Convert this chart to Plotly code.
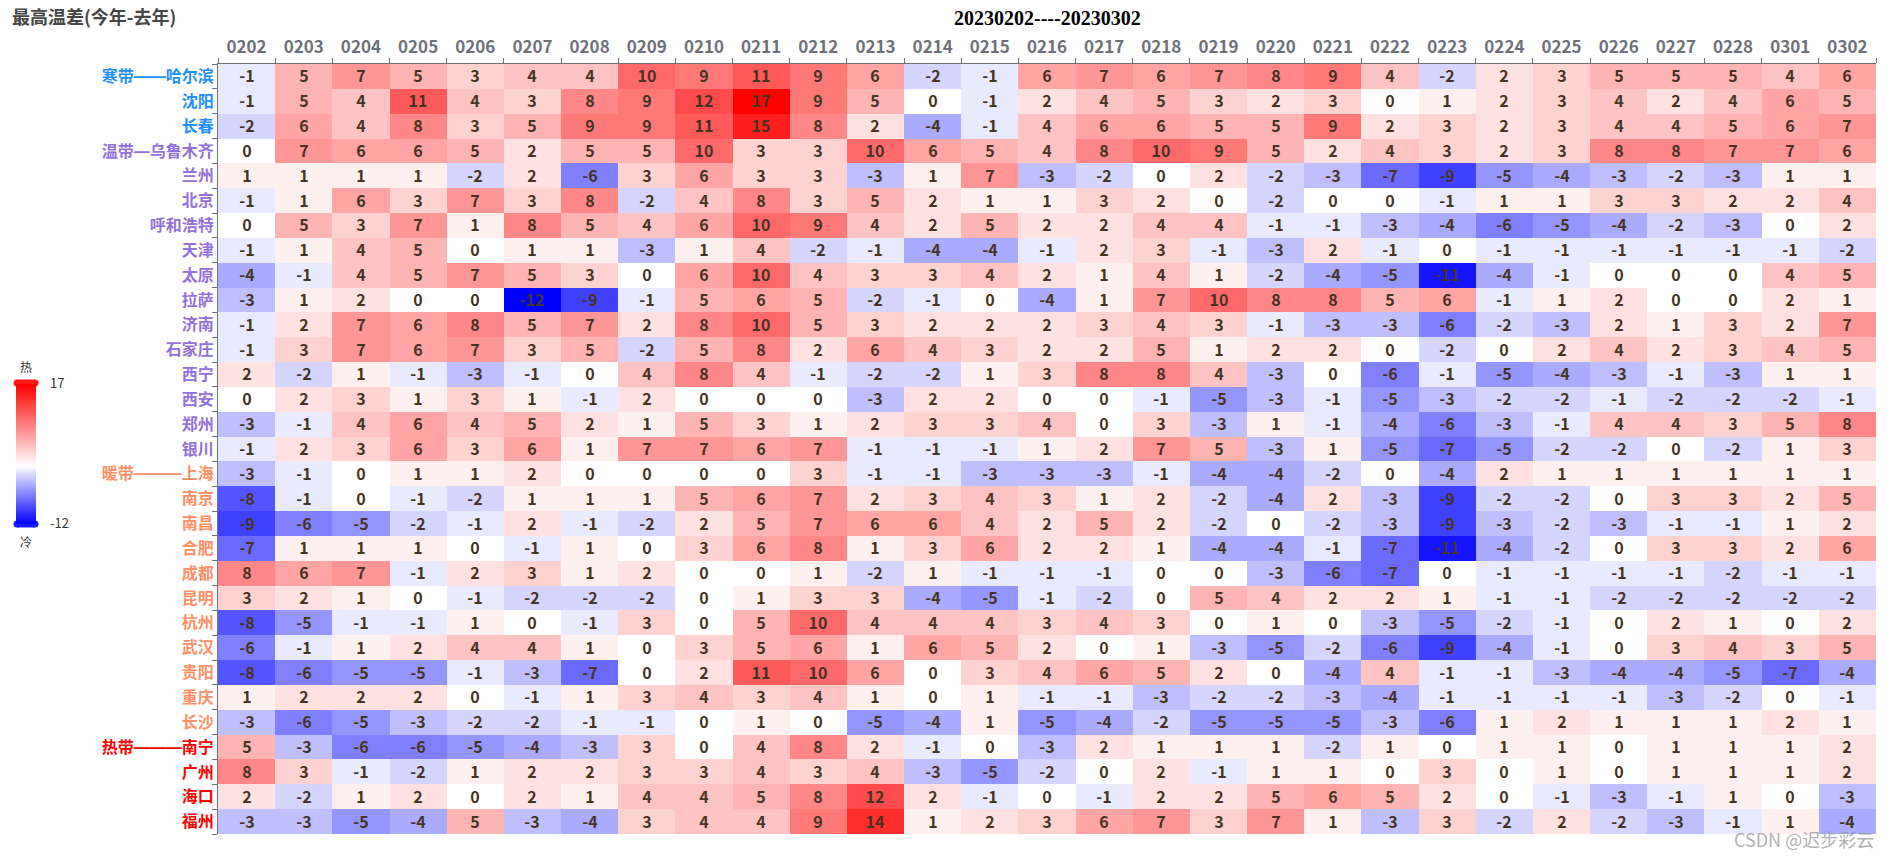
import plotly.graph_objects as go

# ---------------- data ----------------
dates = ['0202', '0203', '0204', '0205', '0206', '0207', '0208', '0209', '0210', '0211',
         '0212', '0213', '0214', '0215', '0216', '0217', '0218', '0219', '0220', '0221',
         '0222', '0223', '0224', '0225', '0226', '0227', '0228', '0301', '0302']

cities = ['哈尔滨', '沈阳', '长春', '乌鲁木齐', '兰州', '北京', '呼和浩特', '天津', '太原', '拉萨',
          '济南', '石家庄', '西宁', '西安', '郑州', '银川', '上海', '南京', '南昌', '合肥',
          '成都', '昆明', '杭州', '武汉', '贵阳', '重庆', '长沙', '南宁', '广州', '海口', '福州']

zones = ['寒带'] * 3 + ['温带'] * 13 + ['暖带'] * 11 + ['热带'] * 4
zone_dash = {'寒带': '——', '温带': '—', '暖带': '———', '热带': '———'}

harbin   = [-1, 5, 7, 5, 3, 4, 4, 10, 9, 11, 9, 6, -2, -1, 6, 7, 6, 7, 8, 9, 4, -2, 2, 3, 5, 5, 5, 4, 6]
shenyang = [-1, 5, 4, 11, 4, 3, 8, 9, 12, 17, 9, 5, 0, -1, 2, 4, 5, 3, 2, 3, 0, 1, 2, 3, 4, 2, 4, 6, 5]
changchun = [-2, 6, 4, 8, 3, 5, 9, 9, 11, 15, 8, 2, -4, -1, 4, 6, 6, 5, 5, 9, 2, 3, 2, 3, 4, 4, 5, 6, 7]
urumqi   = [0, 7, 6, 6, 5, 2, 5, 5, 10, 3, 3, 10, 6, 5, 4, 8, 10, 9, 5, 2, 4, 3, 2, 3, 8, 8, 7, 7, 6]
lanzhou  = [1, 1, 1, 1, -2, 2, -6, 3, 6, 3, 3, -3, 1, 7, -3, -2, 0, 2, -2, -3, -7, -9, -5, -4, -3, -2, -3, 1, 1]
beijing  = [-1, 1, 6, 3, 7, 3, 8, -2, 4, 8, 3, 5, 2, 1, 1, 3, 2, 0, -2, 0, 0, -1, 1, 1, 3, 3, 2, 2, 4]
hohhot   = [0, 5, 3, 7, 1, 8, 5, 4, 6, 10, 9, 4, 2, 5, 2, 2, 4, 4, -1, -1, -3, -4, -6, -5, -4, -2, -3, 0, 2]
tianjin  = [-1, 1, 4, 5, 0, 1, 1, -3, 1, 4, -2, -1, -4, -4, -1, 2, 3, -1, -3, 2, -1, 0, -1, -1, -1, -1, -1, -1, -2]
taiyuan  = [-4, -1, 4, 5, 7, 5, 3, 0, 6, 10, 4, 3, 3, 4, 2, 1, 4, 1, -2, -4, -5, -11, -4, -1, 0, 0, 0, 4, 5]
lhasa    = [-3, 1, 2, 0, 0, -12, -9, -1, 5, 6, 5, -2, -1, 0, -4, 1, 7, 10, 8, 8, 5, 6, -1, 1, 2, 0, 0, 2, 1]
jinan    = [-1, 2, 7, 6, 8, 5, 7, 2, 8, 10, 5, 3, 2, 2, 2, 3, 4, 3, -1, -3, -3, -6, -2, -3, 2, 1, 3, 2, 7]
shijiazhuang = [-1, 3, 7, 6, 7, 3, 5, -2, 5, 8, 2, 6, 4, 3, 2, 2, 5, 1, 2, 2, 0, -2, 0, 2, 4, 2, 3, 4, 5]
xining   = [2, -2, 1, -1, -3, -1, 0, 4, 8, 4, -1, -2, -2, 1, 3, 8, 8, 4, -3, 0, -6, -1, -5, -4, -3, -1, -3, 1, 1]
xian     = [0, 2, 3, 1, 3, 1, -1, 2, 0, 0, 0, -3, 2, 2, 0, 0, -1, -5, -3, -1, -5, -3, -2, -2, -1, -2, -2, -2, -1]
zhengzhou = [-3, -1, 4, 6, 4, 5, 2, 1, 5, 3, 1, 2, 3, 3, 4, 0, 3, -3, 1, -1, -4, -6, -3, -1, 4, 4, 3, 5, 8]
yinchuan = [-1, 2, 3, 6, 3, 6, 1, 7, 7, 6, 7, -1, -1, -1, 1, 2, 7, 5, -3, 1, -5, -7, -5, -2, -2, 0, -2, 1, 3]
shanghai = [-3, -1, 0, 1, 1, 2, 0, 0, 0, 0, 3, -1, -1, -3, -3, -3, -1, -4, -4, -2, 0, -4, 2, 1, 1, 1, 1, 1, 1]
nanjing  = [-8, -1, 0, -1, -2, 1, 1, 1, 5, 6, 7, 2, 3, 4, 3, 1, 2, -2, -4, 2, -3, -9, -2, -2, 0, 3, 3, 2, 5]
nanchang = [-9, -6, -5, -2, -1, 2, -1, -2, 2, 5, 7, 6, 6, 4, 2, 5, 2, -2, 0, -2, -3, -9, -3, -2, -3, -1, -1, 1, 2]
hefei    = [-7, 1, 1, 1, 0, -1, 1, 0, 3, 6, 8, 1, 3, 6, 2, 2, 1, -4, -4, -1, -7, -11, -4, -2, 0, 3, 3, 2, 6]
chengdu  = [8, 6, 7, -1, 2, 3, 1, 2, 0, 0, 1, -2, 1, -1, -1, -1, 0, 0, -3, -6, -7, 0, -1, -1, -1, -1, -2, -1, -1]
kunming  = [3, 2, 1, 0, -1, -2, -2, -2, 0, 1, 3, 3, -4, -5, -1, -2, 0, 5, 4, 2, 2, 1, -1, -1, -2, -2, -2, -2, -2]
hangzhou = [-8, -5, -1, -1, 1, 0, -1, 3, 0, 5, 10, 4, 4, 4, 3, 4, 3, 0, 1, 0, -3, -5, -2, -1, 0, 2, 1, 0, 2]
wuhan    = [-6, -1, 1, 2, 4, 4, 1, 0, 3, 5, 6, 1, 6, 5, 2, 0, 1, -3, -5, -2, -6, -9, -4, -1, 0, 3, 4, 3, 5]
guiyang  = [-8, -6, -5, -5, -1, -3, -7, 0, 2, 11, 10, 6, 0, 3, 4, 6, 5, 2, 0, -4, 4, -1, -1, -3, -4, -4, -5, -7, -4]
chongqing = [1, 2, 2, 2, 0, -1, 1, 3, 4, 3, 4, 1, 0, 1, -1, -1, -3, -2, -2, -3, -4, -1, -1, -1, -1, -3, -2, 0, -1]
changsha = [-3, -6, -5, -3, -2, -2, -1, -1, 0, 1, 0, -5, -4, 1, -5, -4, -2, -5, -5, -5, -3, -6, 1, 2, 1, 1, 1, 2, 1]
nanning  = [5, -3, -6, -6, -5, -4, -3, 3, 0, 4, 8, 2, -1, 0, -3, 2, 1, 1, 1, -2, 1, 0, 1, 1, 0, 1, 1, 1, 2]
guangzhou = [8, 3, -1, -2, 1, 2, 2, 3, 3, 4, 3, 4, -3, -5, -2, 0, 2, -1, 1, 1, 0, 3, 0, 1, 0, 1, 1, 1, 2]
haikou   = [2, -2, 1, 2, 0, 2, 1, 4, 4, 5, 8, 12, 2, -1, 0, -1, 2, 2, 5, 6, 5, 2, 0, -1, -3, -1, 1, 0, -3]
fuzhou   = [-3, -3, -5, -4, 5, -3, -4, 3, 4, 4, 9, 14, 1, 2, 3, 6, 7, 3, 7, 1, -3, 3, -2, 2, -2, -3, -1, 1, -4]

z = [harbin, shenyang, changchun, urumqi, lanzhou, beijing, hohhot, tianjin, taiyuan, lhasa,
     jinan, shijiazhuang, xining, xian, zhengzhou, yinchuan, shanghai, nanjing, nanchang, hefei,
     chengdu, kunming, hangzhou, wuhan, guiyang, chongqing, changsha, nanning, guangzhou, haikou, fuzhou]

vmin, vmax = -12, 17

# ---------------- style ----------------
W, H = 1900, 857
ML, MR, MT, MB = 218, 24, 64, 23
PW, PH = W - ML - MR, H - MT - MB
FONT = 'Noto Sans CJK SC, Noto Sans, sans-serif'
zone_color = {'寒带': '#1E90FF', '温带': '#9370DB', '暖带': '#FF8F66', '热带': '#FF0000'}
AXIS_GRAY = '#6E7079'


def px_x(px):
    return (px - ML) / PW


def px_y(py):
    return (H - MB - py) / PH


# first city in each zone carries the zone name prefix
ticktext = []
seen = set()
for c, zn in zip(cities, zones):
    if zn not in seen:
        seen.add(zn)
        lab = (f"{zn}<span style='font-family:Liberation Sans'>{zone_dash[zn]}</span>{c}")
    else:
        lab = c
    ticktext.append(f"<span style='color:{zone_color[zn]}'>{lab}</span>")

cell_text = [[str(v) for v in row] for row in z]
white_pos = (0 - vmin) / (vmax - vmin)

fig = go.Figure(go.Heatmap(
    z=z, x=dates, y=cities, zmin=vmin, zmax=vmax,
    colorscale=[[0, '#0000ff'], [white_pos, '#ffffff'], [1, '#ff0000']],
    text=cell_text, texttemplate='%{text}',
    textfont=dict(family=FONT, size=16, color='#45341f', weight='bold'),
    hoverinfo='skip',
    colorbar=dict(
        xref='paper', yref='paper',
        x=px_x(16), xanchor='left',
        y=px_y(453.5), yanchor='middle',
        lenmode='pixels', len=140, thickness=20,
        outlinewidth=0, xpad=0, ypad=0,
        tickmode='array', tickvals=[vmin, vmax], ticktext=[str(vmin), str(vmax)],
        ticks='outside', ticklen=12, tickcolor='rgba(0,0,0,0)',
        tickfont=dict(family=FONT, size=13, color='#333333'),
    ),
))

fig.update_xaxes(
    side='top', type='category', showgrid=False, zeroline=False,
    ticks='outside', tickson='boundaries', ticklen=5, tickcolor=AXIS_GRAY,
    showline=True, linecolor=AXIS_GRAY, linewidth=1,
    ticklabelstandoff=3,
    tickfont=dict(family=FONT, size=17, color=AXIS_GRAY, weight='bold'),
)
fig.update_yaxes(
    type='category', autorange='reversed', showgrid=False, zeroline=False,
    ticks='outside', tickson='boundaries', ticklen=5, tickcolor=AXIS_GRAY,
    showline=True, linecolor=AXIS_GRAY, linewidth=1,
    tickmode='array', tickvals=cities, ticktext=ticktext,
    tickfont=dict(family=FONT, size=16, weight='bold'),
)

annotations = [
    dict(text='20230202----20230302', xref='paper', yref='paper', x=0.5, y=px_y(18),
         xanchor='center', yanchor='middle', showarrow=False,
         font=dict(family='Liberation Serif, Times New Roman, serif', size=20, color='#000000', weight='bold')),
    dict(text='热', xref='paper', yref='paper', x=px_x(26), y=px_y(366),
         xanchor='center', yanchor='middle', showarrow=False,
         font=dict(family=FONT, size=12, color='#333333')),
    dict(text='冷', xref='paper', yref='paper', x=px_x(26), y=px_y(541),
         xanchor='center', yanchor='middle', showarrow=False,
         font=dict(family=FONT, size=12, color='#333333')),
    dict(text='CSDN @迟步彩云', xref='paper', yref='paper', x=1.0, y=px_y(839),
         xanchor='right', yanchor='middle', showarrow=False,
         font=dict(family=FONT, size=18, color='rgba(150,150,150,0.75)')),
]

# colour-bar end handles (pill shapes)
shapes = []
for cy, col in [(383, '#ff1a1a'), (524, '#1a1aff')]:
    for kind, x0, x1 in [('rect', -9, 9), ('circle', -12.5, -5.5), ('circle', 5.5, 12.5)]:
        shapes.append(dict(type=kind, xref='paper', yref='paper',
                           xsizemode='pixel', ysizemode='pixel',
                           xanchor=px_x(26), yanchor=px_y(cy),
                           x0=x0, x1=x1, y0=-3.5, y1=3.5,
                           fillcolor=col, line=dict(width=0), layer='above'))

fig.update_layout(
    width=W, height=H,
    margin=dict(l=ML, r=MR, t=MT, b=MB, pad=0),
    paper_bgcolor='white', plot_bgcolor='white',
    title=dict(text='最高温差(今年-去年)', xref='container', yref='container',
               x=12 / W, y=1 - 18 / H, xanchor='left', yanchor='middle',
               font=dict(family=FONT, size=18, color='#464646', weight='bold')),
    annotations=annotations,
    shapes=shapes,
)

fig.write_html('out.html')
